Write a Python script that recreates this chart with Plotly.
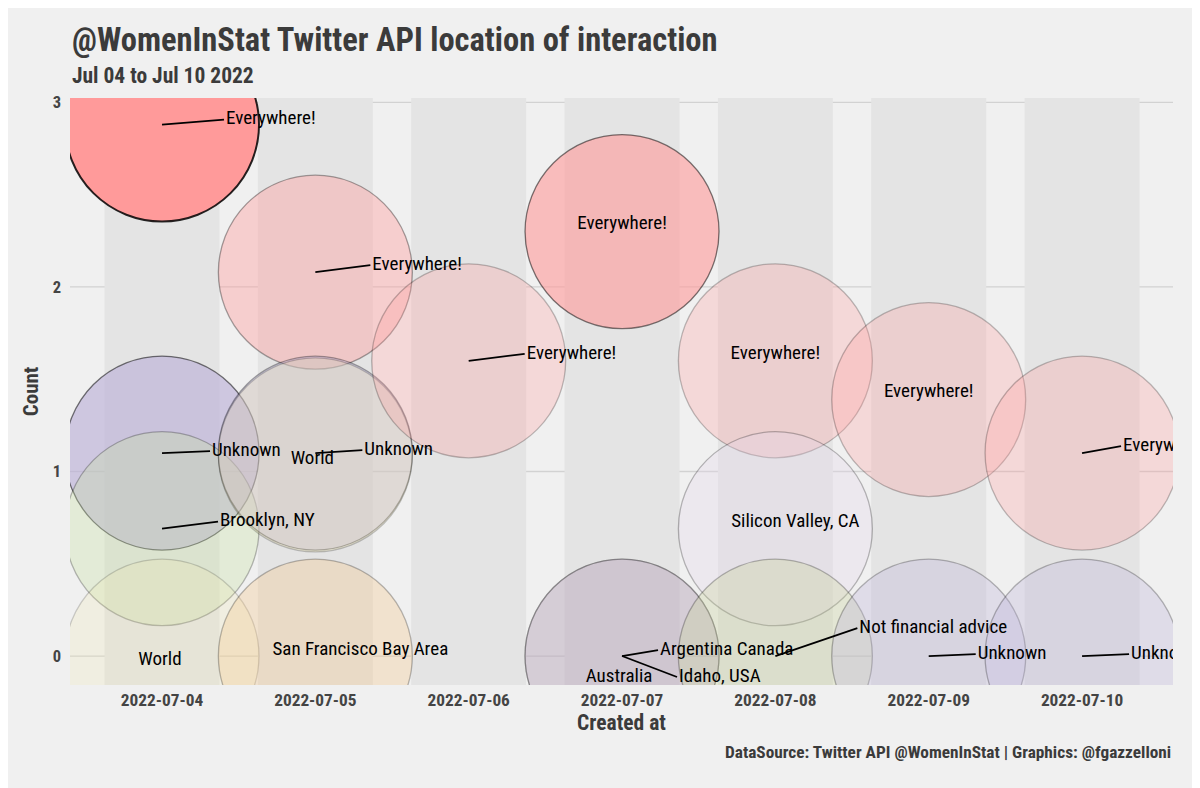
import pandas as pd
import plotly.graph_objects as go

# data (y is the jittered count position)
dates = ["2022-07-04"] * 4 + ["2022-07-05"] * 4 + ["2022-07-06"] + ["2022-07-07"] * 4 \
    + ["2022-07-08"] * 3 + ["2022-07-09"] * 2 + ["2022-07-10"] * 2
locations = ["Everywhere!", "Unknown", "Brooklyn, NY", "World",
             "Everywhere!", "Unknown", "World", "San Francisco Bay Area",
             "Everywhere!",
             "Everywhere!", "Australia", "Argentina Canada", "Idaho, USA",
             "Everywhere!", "Silicon Valley, CA", "Not financial advice",
             "Everywhere!", "Unknown",
             "Everywhere!", "Unknown"]
counts = [2.88, 1.10, 0.69, 0.0,
          2.08, 1.10, 1.09, 0.0,
          1.60,
          2.30, 0.0, 0.0, 0.0,
          1.60, 0.69, 0.0,
          1.39, 0.0,
          1.10, 0.0]
y_ticks = [0, 1, 2, 3]

# styling: base colour per location, alpha per point
loc_colors = {
    "Everywhere!": (255, 154, 154),
    "Unknown": (185, 175, 215),
    "Brooklyn, NY": (200, 225, 160),
    "World": (240, 228, 165),
    "San Francisco Bay Area": (245, 195, 130),
    "Silicon Valley, CA": (230, 215, 235),
    "Australia": (185, 165, 190),
    "Argentina Canada": (195, 170, 185),
    "Idaho, USA": (180, 170, 190),
    "Not financial advice": (200, 210, 150),
}
alphas = [1.0, 0.62, 0.3, 0.2,
          0.4, 0.4, 0.25, 0.3,
          0.28,
          0.6, 0.2, 0.2, 0.2,
          0.28, 0.3, 0.3,
          0.28, 0.3,
          0.28, 0.3]

# label placement (pixel offsets from the point, repel-style)
label_dx = [64, 50, 58, -2, 57, 49, -3, 45, 58, 0, -3, 38, 57, 0, 20, 84, 0, 49, 41, 49]
label_dy = [-5, -2, -7, 4, -7, -3, 4, -6, -7, -7, 21, -6, 21, -7, -6, -28, -7, -2, -7, -2]
label_seg = [True, True, True, False, True, True, False, False, True, False, False, True, True,
             False, False, True, False, True, True, True]

FONT = "Roboto Condensed, Liberation Sans Narrow, DejaVu Sans Condensed, Roboto, sans-serif"
# page has an 8px body margin, so the figure is 8px smaller than the window
W, H = 1192, 780
ML, MR, MT, MB = 62, 27, 90, 103
x0 = pd.Timestamp("2022-07-03 09:36")
x1 = pd.Timestamp("2022-07-10 14:14")
y_range = [-0.157, 3.024]

px_per_day = (W - ML - MR) / ((x1 - x0) / pd.Timedelta(days=1))
px_per_unit = (H - MT - MB) / (y_range[1] - y_range[0])

xs = pd.to_datetime(dates)
fills, lines, widths = [], [], []
for loc, a in zip(locations, alphas):
    r, g, b = loc_colors[loc]
    fills.append(f"rgba({r},{g},{b},{a})")
    lines.append(f"rgba(0,0,0,{a * 0.85:.2f})")
    widths.append(2 if a >= 1 else 1.3)

fig = go.Figure()
fig.add_trace(go.Scatter(
    x=xs, y=counts, mode="markers",
    marker=dict(size=194, color=fills, line=dict(color=lines, width=widths)),
    hoverinfo="skip", showlegend=False,
))

# label text and segments
tx, ty, tpos = [], [], []
for x, y, dx, dy, seg in zip(xs, counts, label_dx, label_dy, label_seg):
    lx = x + pd.Timedelta(days=dx / px_per_day)
    ly = y - dy / px_per_unit
    tx.append(lx)
    ty.append(ly)
    tpos.append("middle right" if seg else "middle center")
    if seg:
        ex = x + pd.Timedelta(days=(dx - 2) / px_per_day)
        fig.add_trace(go.Scatter(
            x=[x, ex], y=[y, ly], mode="lines",
            line=dict(color="black", width=1.8),
            hoverinfo="skip", showlegend=False,
        ))

fig.add_trace(go.Scatter(
    x=tx, y=ty, mode="text", text=locations, textposition=tpos,
    textfont=dict(family=FONT, size=19, color="black"),
    hoverinfo="skip", showlegend=False,
))

# horizontal grid, then the day bands on top of it (both under the bubbles)
for t in y_ticks:
    fig.add_shape(type="line", xref="paper", yref="y", x0=0, x1=1, y0=t, y1=t,
                  line=dict(color="#d2d2d2", width=1.3), layer="below")
for d in sorted(set(xs)):
    fig.add_shape(type="rect", xref="x", yref="paper",
                  x0=d - pd.Timedelta(hours=9), x1=d + pd.Timedelta(hours=9),
                  y0=0, y1=1, fillcolor="#e4e4e4", line_width=0, layer="below")


def py(p):
    return (H - MB - p) / (H - MT - MB)


fig.add_annotation(text="<b>@WomenInStat Twitter API location of interaction</b>",
                   xref="paper", yref="paper", x=0, y=py(32), xanchor="left", yanchor="middle",
                   showarrow=False, font=dict(family=FONT, size=32.5, color="#3b3b3b"))
fig.add_annotation(text="<b>Jul 04 to Jul 10 2022</b>",
                   xref="paper", yref="paper", x=0, y=py(67), xanchor="left", yanchor="middle",
                   showarrow=False, font=dict(family=FONT, size=21.5, color="#3b3b3b"))
fig.add_annotation(text="<b>DataSource: Twitter API @WomenInStat | Graphics: @fgazzelloni</b>",
                   xref="paper", yref="paper", x=1, y=py(744), xanchor="right", yanchor="middle",
                   showarrow=False, font=dict(family=FONT, size=17.3, color="#3b3b3b"))

fig.update_layout(
    width=W, height=H,
    margin=dict(l=ML, r=MR, t=MT, b=MB),
    paper_bgcolor="#f0f0f0", plot_bgcolor="#f0f0f0",
    font=dict(family=FONT, color="#444444"),
    xaxis=dict(
        range=[x0, x1], tickvals=sorted(set(xs)), tickformat="%Y-%m-%d",
        showgrid=False, zeroline=False, showline=False, ticks="",
        tickfont=dict(family=FONT, size=17.3, color="#444444", weight="bold"),
        title=dict(text="<b>Created at</b>", font=dict(family=FONT, size=21.5, color="#3b3b3b"), standoff=4),
        ticklabelstandoff=3,
    ),
    yaxis=dict(
        range=y_range, tickvals=y_ticks, showgrid=False,
        zeroline=False, showline=False, ticks="",
        tickfont=dict(family=FONT, size=16.5, color="#444444", weight="bold"),
        title=dict(text="<b>Count</b>", font=dict(family=FONT, size=21, color="#3b3b3b"), standoff=8),
        ticklabelstandoff=8,
    ),
)

fig.write_html("out.html")
